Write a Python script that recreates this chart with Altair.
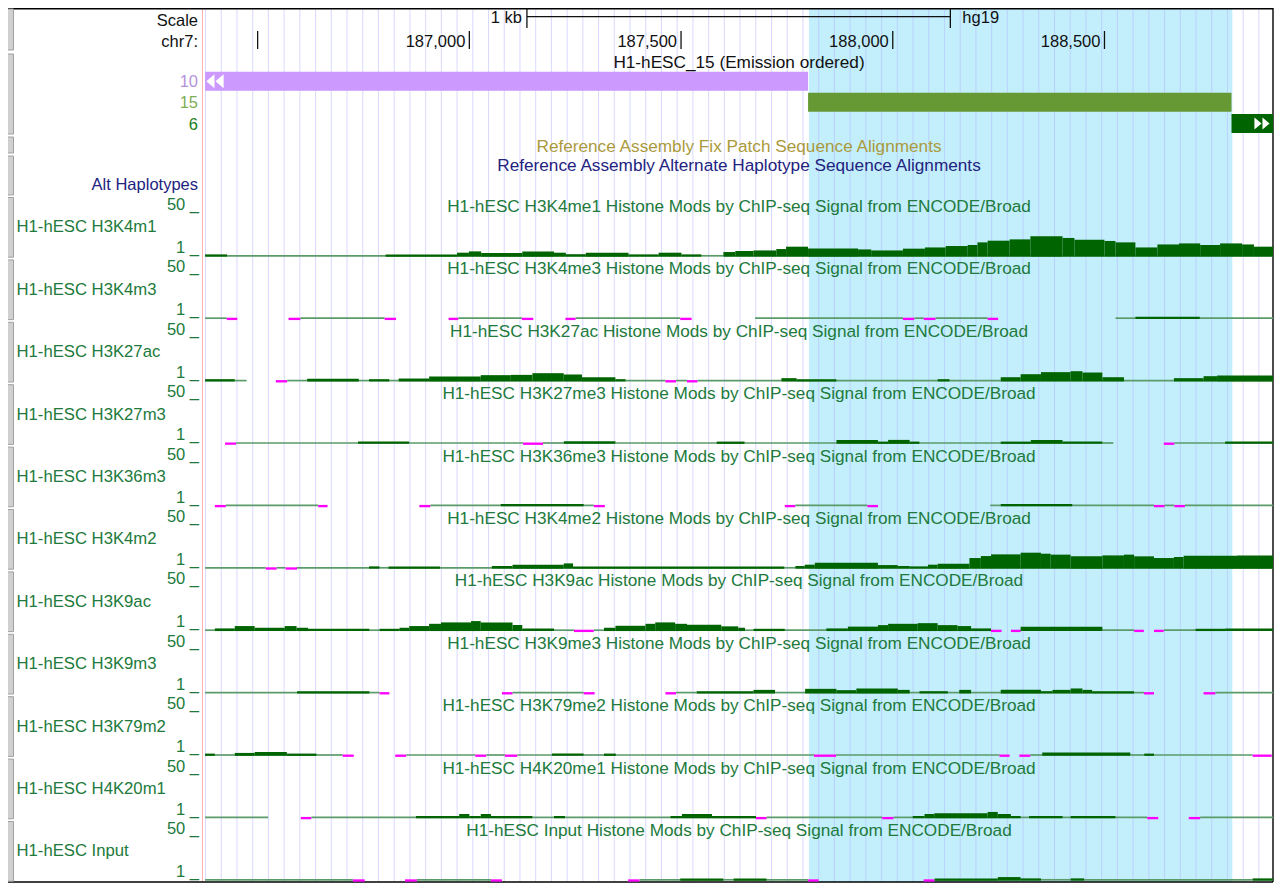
import altair as alt
import pandas as pd

# ---------------------------------------------------------------- data
VIEW_START, VIEW_END = 186371, 188898
HIGHLIGHT_START, HIGHLIGHT_END = 187802, 188802
SCALE_BAR_START, SCALE_BAR_END = 187136, 188136

RULER_TICKS = [186500, 187000, 187500, 188000, 188500]
RULER_LABELS = ["", "187,000", "187,500", "188,000", "188,500"]

HMM_STATES = ["10", "15", "6"]
HMM_START = [186376, 187800, 188800]
HMM_END = [187800, 188800, 188898]

TRACK_LABELS = [
    "H1-hESC H3K4m1", "H1-hESC H3K4m3", "H1-hESC H3K27ac", "H1-hESC H3K27m3",
    "H1-hESC H3K36m3", "H1-hESC H3K4m2", "H1-hESC H3K9ac", "H1-hESC H3K9m3",
    "H1-hESC H3K79m2", "H1-hESC H4K20m1", "H1-hESC Input",
]
TRACK_MARKS = [
    "H3K4me1", "H3K4me3", "H3K27ac", "H3K27me3", "H3K36me3", "H3K4me2",
    "H3K9ac", "H3K9me3", "H3K79me2", "H4K20me1", "Input",
]

# (start, end, signal); signal < 1 is drawn clipped (magenta)
H3K4ME1 = [
    (186376, 186428, 2.4), (186428, 186802, 1), (186802, 186971, 2.4), (186971, 186999, 4.2),
    (186999, 187028, 5.6), (187028, 187125, 3.9), (187125, 187200, 5.6), (187200, 187228, 4.2),
    (187228, 187275, 2.6), (187275, 187376, 4.2), (187376, 187447, 2.4), (187447, 187501, 4.2),
    (187501, 187548, 2.4), (187548, 187600, 1), (187600, 187628, 4.9), (187628, 187671, 6),
    (187671, 187725, 6.6), (187725, 187748, 8.1), (187748, 187800, 10.6), (187800, 187918, 8.8),
    (187918, 187949, 7.7), (187949, 188024, 6.6), (188024, 188076, 8.5), (188076, 188125, 9.8),
    (188125, 188177, 11.3), (188177, 188200, 12.4), (188200, 188224, 15.2), (188224, 188276, 17),
    (188276, 188325, 18.4), (188325, 188401, 21.6), (188401, 188429, 19.9), (188429, 188500, 18),
    (188500, 188526, 16.7), (188526, 188573, 15.2), (188573, 188625, 9.8), (188625, 188676, 13),
    (188676, 188726, 14.1), (188726, 188773, 12.4), (188773, 188825, 14.1), (188825, 188853, 13),
    (188853, 188898, 10.6),
]
H3K4ME3 = [
    (186376, 186427, 1), (186427, 186452, 0), (186573, 186601, 0), (186601, 186800, 1),
    (186800, 186827, 0), (186951, 186974, 0), (186974, 187124, 1), (187124, 187151, 0),
    (187227, 187251, 0), (187251, 187498, 1), (187498, 187525, 0), (187675, 188024, 1),
    (188024, 188051, 0), (188051, 188073, 1), (188073, 188101, 0), (188101, 188224, 1),
    (188224, 188249, 0), (188526, 188573, 1), (188573, 188725, 2.4), (188725, 188898, 1),
]
H3K27AC = [
    (186376, 186446, 2.4), (186446, 186474, 1), (186543, 186570, 0), (186570, 186617, 1),
    (186617, 186739, 2.8), (186739, 186763, 1), (186763, 186811, 2.4), (186811, 186833, 1),
    (186833, 186905, 3.1), (186905, 187027, 5.3), (187027, 187098, 6.7), (187098, 187149, 7),
    (187149, 187223, 8.8), (187223, 187266, 7.4), (187266, 187345, 4.5), (187345, 187369, 2.4),
    (187369, 187463, 1), (187463, 187488, 0), (187488, 187514, 1), (187514, 187539, 0),
    (187539, 187737, 1), (187737, 187773, 3.5), (187773, 187867, 2.4), (187867, 188106, 1),
    (188106, 188134, 2.4), (188134, 188255, 1), (188255, 188302, 4.5), (188302, 188350, 7.7),
    (188350, 188420, 9.9), (188420, 188448, 10.9), (188448, 188495, 9.5), (188495, 188546, 4.5),
    (188546, 188664, 1), (188664, 188734, 3.5), (188734, 188766, 5.6), (188766, 188898, 6.3),
]
H3K27ME3 = [
    (186423, 186449, 0), (186449, 186737, 1), (186737, 186858, 2.4), (186858, 187127, 1),
    (187127, 187174, 0), (187174, 187223, 1), (187223, 187345, 2.8), (187345, 187584, 1),
    (187584, 187650, 2.4), (187650, 187867, 1), (187867, 187965, 4.2), (187965, 187989, 2.4),
    (187989, 188040, 4.2), (188040, 188063, 2.4), (188063, 188255, 1), (188255, 188326, 2.4),
    (188326, 188401, 4.2), (188401, 188495, 2.4), (188495, 188521, 1), (188640, 188665, 0),
    (188665, 188785, 1), (188785, 188898, 2.4),
]
H3K36ME3 = [
    (186399, 186425, 0), (186425, 186643, 1), (186643, 186665, 0), (186882, 186908, 0),
    (186908, 187074, 1), (187074, 187270, 2.4), (187270, 187294, 1), (187294, 187320, 0),
    (187745, 187770, 0), (187770, 187940, 1), (187940, 187965, 0), (188230, 188255, 1),
    (188255, 188424, 2.4), (188424, 188617, 1), (188617, 188642, 0), (188642, 188665, 1),
    (188665, 188690, 0), (188690, 188898, 1),
]
H3K4ME2 = [
    (186376, 186519, 1), (186519, 186545, 0), (186545, 186566, 1), (186566, 186593, 0),
    (186593, 186763, 1), (186763, 186788, 2.4), (186788, 186809, 1), (186809, 186931, 2.4),
    (186931, 187053, 1), (187053, 187102, 2.8), (187102, 187223, 4.2), (187223, 187245, 5.6),
    (187245, 187744, 2.4), (187744, 187770, 1), (187770, 187792, 2.8), (187792, 187816, 4.2),
    (187816, 187965, 6.3), (187965, 188012, 3.8), (188012, 188040, 2.8), (188040, 188083, 2.4),
    (188083, 188106, 4.2), (188106, 188181, 5.3), (188181, 188208, 11.3), (188208, 188232, 13.4),
    (188232, 188302, 15.2), (188302, 188350, 17), (188350, 188373, 15.9), (188373, 188420, 14.9),
    (188420, 188495, 13.1), (188495, 188546, 14.1), (188546, 188570, 14.9), (188570, 188617, 13.1),
    (188617, 188664, 11.3), (188664, 188687, 12.4), (188687, 188813, 13.8), (188813, 188898, 14.1),
]
H3K9AC = [
    (186376, 186399, 1), (186399, 186446, 2.8), (186446, 186493, 5.3), (186493, 186564, 3.5),
    (186564, 186592, 5.3), (186592, 186619, 3.5), (186619, 186764, 2.4), (186764, 186788, 1),
    (186788, 186835, 2.4), (186835, 186858, 3.5), (186858, 186905, 5.3), (186905, 186933, 7.7),
    (186933, 187004, 9.2), (187004, 187027, 10.6), (187027, 187102, 9.2), (187102, 187125, 6.3),
    (187125, 187200, 2.8), (187200, 187247, 1), (187247, 187294, 0), (187294, 187318, 1),
    (187318, 187345, 3.5), (187345, 187416, 5.6), (187416, 187439, 7.7), (187439, 187486, 9.2),
    (187486, 187514, 7.7), (187514, 187595, 6.7), (187595, 187635, 5), (187635, 187651, 3.5),
    (187651, 187671, 1), (187671, 187745, 2.4), (187745, 187843, 1), (187843, 187894, 2.8),
    (187894, 187965, 4.7), (187965, 187989, 6.3), (187989, 188059, 7.7), (188059, 188106, 8.4),
    (188106, 188153, 6.3), (188153, 188185, 5.3), (188185, 188232, 2.8), (188232, 188257, 0),
    (188279, 188302, 0), (188302, 188495, 4.7), (188495, 188570, 1), (188570, 188593, 0),
    (188617, 188640, 0), (188640, 188715, 1), (188715, 188785, 2.4), (188785, 188898, 2.8),
]
H3K9ME3 = [
    (186376, 186593, 1), (186593, 186764, 2.4), (186764, 186788, 1), (186788, 186811, 0),
    (187077, 187102, 0), (187102, 187270, 1), (187270, 187296, 0), (187463, 187488, 0),
    (187488, 187537, 1), (187537, 187671, 2.4), (187671, 187722, 3.8), (187722, 187793, 1),
    (187793, 187867, 4.9), (187867, 187914, 3.5), (187914, 188012, 5.3), (188012, 188040, 3.8),
    (188040, 188063, 1), (188063, 188130, 2.4), (188130, 188157, 1), (188157, 188185, 3.8),
    (188185, 188255, 1), (188255, 188350, 3.8), (188350, 188377, 2.4), (188377, 188420, 3.8),
    (188420, 188448, 5.3), (188448, 188471, 3.8), (188471, 188570, 2.4), (188570, 188593, 1),
    (188593, 188617, 0), (188734, 188762, 0), (188762, 188898, 1),
]
H3K79ME2 = [
    (186376, 186399, 2.4), (186399, 186446, 1), (186446, 186493, 3.1), (186493, 186569, 4.2),
    (186569, 186639, 2.4), (186639, 186701, 1), (186701, 186727, 0), (186825, 186851, 0),
    (186851, 187014, 1), (187014, 187040, 0), (187040, 187084, 1), (187084, 187113, 0),
    (187113, 187195, 1), (187195, 187270, 2.4), (187270, 187318, 1), (187318, 187346, 2.4),
    (187346, 187814, 1), (187814, 187866, 0), (187866, 188252, 1), (188252, 188276, 0),
    (188299, 188325, 0), (188325, 188353, 1), (188353, 188561, 3.5), (188561, 188594, 1),
    (188594, 188617, 2.4), (188617, 188850, 1), (188850, 188895, 0),
]
H4K20ME1 = [
    (186376, 186525, 1), (186602, 186627, 0), (186627, 186874, 1), (186874, 186976, 2.4),
    (186976, 187000, 4.5), (187000, 187027, 2.4), (187027, 187051, 4.5), (187051, 187149, 2.4),
    (187149, 187200, 1), (187200, 187226, 2.4), (187226, 187475, 1), (187475, 187502, 2.4),
    (187502, 187573, 4.5), (187573, 187677, 2.4), (187677, 187702, 0), (187702, 187975, 1),
    (187975, 188002, 0), (188002, 188047, 1), (188047, 188075, 2.4), (188075, 188098, 4.5),
    (188098, 188224, 5.3), (188224, 188248, 6.7), (188248, 188279, 4.5), (188279, 188302, 2.4),
    (188302, 188322, 1), (188322, 188401, 2.4), (188401, 188420, 1), (188420, 188526, 2.4),
    (188526, 188601, 1), (188601, 188627, 0), (188699, 188726, 0), (188726, 188898, 1),
]
INPUT = [
    (186376, 186725, 1), (186725, 186753, 0), (186848, 186876, 0), (186876, 187051, 1),
    (187051, 187077, 0), (187375, 187402, 0), (187402, 187498, 1), (187498, 187600, 2.4),
    (187600, 187624, 1), (187624, 187702, 2.4), (187702, 187800, 1), (187800, 187825, 0),
    (188073, 188099, 0), (188099, 188248, 2.4), (188248, 188302, 3.8), (188302, 188350, 2.4),
    (188350, 188420, 1), (188420, 188452, 2.4), (188452, 188850, 1), (188850, 188898, 2.4),
]
TRACK_SIGNALS = [H3K4ME1, H3K4ME3, H3K27AC, H3K27ME3, H3K36ME3, H3K4ME2,
                 H3K9AC, H3K9ME3, H3K79ME2, H4K20ME1, INPUT]

# ---------------------------------------------------------------- style / layout
W, H = 1266, 875
X0, X1 = 195, 1265
LABEL_RIGHT = 190
DATA_CENTER = 731
TRACK0_BASE = 247.7
PITCH = 62.4
BOTTOM = 874
FONT = "Liberation Sans"
FS = 16.5
FS_LEFT = 16.7
FS_TITLE = 17.2

BLACK = "#111111"
TRACK_TEXT = "#217a3b"
BASE_GREEN = "#5a9b69"
SIGNAL_GREEN = "#006400"
CLIPPED = "#ff00ff"
HMM_COLORS = ["#cc99ff", "#669933", "#006400"]
HMM_TEXT = ["#b592dd", "#7fae55", "#1a7f1a"]
HIGHLIGHT = "#c3effc"
GUIDE = "#b4b4ff"
PATCH_TEXT = "#ab9a3c"
HAPLO_TEXT = "#22227f"

x_scale = alt.Scale(domain=[VIEW_START, VIEW_END], range=[X0, X1], nice=False, zero=False)
guides = [186377 + 37.13 * k for k in range(68)]


def text_layer(df, align, size=FS):
    return alt.Chart(df).mark_text(align=align, baseline="alphabetic", font=FONT, fontSize=size).encode(
        x=alt.X("px:Q", scale=None),
        y=alt.Y("py:Q", scale=None),
        text="text:N",
        color=alt.Color("color:N", scale=None),
    )


def track_frame(segments):
    rows = []
    for start, end, value in segments:
        if value < 1:
            rows.append(dict(start=start, end=end, lo=-1.1, hi=1.4, color=CLIPPED))
        else:
            rows.append(dict(start=start, end=end, lo=0.0, hi=1.8, color=BASE_GREEN))
    for start, end, value in segments:
        if value > 1:
            rows.append(dict(start=start, end=end, lo=0.0, hi=value, color=SIGNAL_GREEN))
    return pd.DataFrame(rows)


layers = []

# highlight and guidelines
layers.append(
    alt.Chart(pd.DataFrame({"start": [HIGHLIGHT_START], "end": [HIGHLIGHT_END]}))
    .mark_rect(color=HIGHLIGHT)
    .encode(x=alt.X("start:Q", scale=x_scale, axis=None), x2="end:Q",
            y=alt.value(0), y2=alt.value(BOTTOM))
)
layers.append(
    alt.Chart(pd.DataFrame({"pos": guides}))
    .mark_rule(color=GUIDE, opacity=0.5, strokeWidth=1)
    .encode(x=alt.X("pos:Q", scale=x_scale, axis=None), y=alt.value(0), y2=alt.value(BOTTOM))
)

# frame, separator and side buttons
layers.append(
    alt.Chart(pd.DataFrame({"a": [0]})).mark_rule(color="#ffb0b0", strokeWidth=1)
    .encode(x=alt.value(194.5), y=alt.value(0), y2=alt.value(BOTTOM))
)
frame = pd.DataFrame({
    "x": [0, X1, 0], "x2": [X1, X1, X1], "y": [0.7, 0, BOTTOM], "y2": [0.7, BOTTOM, BOTTOM],
})
layers.append(
    alt.Chart(frame).mark_rule(color="#000000", strokeWidth=1.4)
    .encode(x=alt.X("x:Q", scale=None), x2="x2:Q", y=alt.Y("y:Q", scale=None), y2="y2:Q")
)
btn_top = [1, 46, 129, 148] + [TRACK0_BASE - 58.2 + PITCH * i for i in range(11)]
btn_bot = [42, 126, 145, 187] + [TRACK0_BASE + 1.5 + PITCH * i for i in range(11)]
layers.append(
    alt.Chart(pd.DataFrame({"t": btn_top, "b": btn_bot}))
    .mark_rect(fill="#d0d0d0", stroke="#a0a0a0", strokeWidth=1)
    .encode(x=alt.value(-2), x2=alt.value(5.5), y=alt.Y("t:Q", scale=None), y2="b:Q")
)

# ruler
layers.append(
    alt.Chart(pd.DataFrame({"s": [SCALE_BAR_START], "e": [SCALE_BAR_END]}))
    .mark_rule(color=BLACK, strokeWidth=1.2)
    .encode(x=alt.X("s:Q", scale=x_scale, axis=None), x2="e:Q", y=alt.value(8.7))
)
layers.append(
    alt.Chart(pd.DataFrame({"p": [SCALE_BAR_START, SCALE_BAR_END]}))
    .mark_rule(color=BLACK, strokeWidth=1.3)
    .encode(x=alt.X("p:Q", scale=x_scale, axis=None), y=alt.value(0), y2=alt.value(20))
)
layers.append(
    alt.Chart(pd.DataFrame({"p": [SCALE_BAR_START], "t": ["1 kb"]}))
    .mark_text(align="right", baseline="alphabetic", font=FONT, fontSize=FS, color=BLACK, dx=-5)
    .encode(x=alt.X("p:Q", scale=x_scale, axis=None), y=alt.value(15.3), text="t:N")
)
layers.append(
    alt.Chart(pd.DataFrame({"p": [SCALE_BAR_END], "t": ["hg19"]}))
    .mark_text(align="left", baseline="alphabetic", font=FONT, fontSize=FS, color=BLACK, dx=12)
    .encode(x=alt.X("p:Q", scale=x_scale, axis=None), y=alt.value(15.3), text="t:N")
)
ruler = pd.DataFrame({"p": RULER_TICKS, "t": RULER_LABELS})
layers.append(
    alt.Chart(ruler).mark_rule(color=BLACK, strokeWidth=1.3)
    .encode(x=alt.X("p:Q", scale=x_scale, axis=None), y=alt.value(23), y2=alt.value(41))
)
layers.append(
    alt.Chart(ruler).mark_text(align="right", baseline="alphabetic", font=FONT, fontSize=FS, color=BLACK, dx=-4)
    .encode(x=alt.X("p:Q", scale=x_scale, axis=None), y=alt.value(38.5), text="t:N")
)

# chromHMM segments
hmm = pd.DataFrame({
    "start": HMM_START, "end": HMM_END, "color": HMM_COLORS,
    "top": [63.7 + 21.1 * i for i in range(3)], "bot": [82.7 + 21.1 * i for i in range(3)],
})
layers.append(
    alt.Chart(hmm).mark_rect()
    .encode(x=alt.X("start:Q", scale=x_scale, axis=None), x2="end:Q",
            y=alt.Y("top:Q", scale=None), y2="bot:Q", color=alt.Color("color:N", scale=None))
)
chevron = "M -1 0 L -0.06 -0.8 L -0.06 0.8 Z M 0.06 0 L 1 -0.8 L 1 0.8 Z"
layers.append(
    alt.Chart(pd.DataFrame({"a": [0]})).mark_point(shape=chevron, filled=True, color="white", opacity=1, size=300)
    .encode(x=alt.value(207), y=alt.value(73.2))
)
layers.append(
    alt.Chart(pd.DataFrame({"a": [0]})).mark_point(shape="M 1 0 L 0.06 -0.8 L 0.06 0.8 Z M -0.06 0 L -1 -0.8 L -1 0.8 Z",
                                                   filled=True, color="white", opacity=1, size=230)
    .encode(x=alt.value(1254), y=alt.value(115.5))
)

# signal tracks
for i, segments in enumerate(TRACK_SIGNALS):
    base = TRACK0_BASE + PITCH * i
    y_scale = alt.Scale(domain=[-2, 50], range=[base + 2.816, base - 46.0], nice=False, zero=False)
    layers.append(
        alt.Chart(track_frame(segments)).mark_rect()
        .encode(
            x=alt.X("start:Q", scale=x_scale, axis=None), x2="end:Q",
            y=alt.Y("hi:Q", scale=y_scale, axis=None), y2="lo:Q",
            color=alt.Color("color:N", scale=None),
        )
    )

# texts
right_texts = pd.DataFrame({
    "text": ["Scale", "chr7:"] + HMM_STATES + ["Alt Haplotypes"],
    "px": [LABEL_RIGHT] * 6,
    "py": [18, 39, 79, 100.3, 121.5, 182],
    "color": [BLACK, BLACK] + HMM_TEXT + [HAPLO_TEXT],
})
scale_texts = pd.DataFrame({
    "text": [t for _ in TRACK_LABELS for t in ("50 _", "1 _")],
    "px": [LABEL_RIGHT + 1] * (2 * len(TRACK_LABELS)),
    "py": [TRACK0_BASE + PITCH * i + d for i in range(len(TRACK_LABELS)) for d in (-45.7, -2.7)],
    "color": [TRACK_TEXT] * (2 * len(TRACK_LABELS)),
})
left_texts = pd.DataFrame({
    "text": TRACK_LABELS,
    "px": [8.5] * len(TRACK_LABELS),
    "py": [TRACK0_BASE + PITCH * i - 23.4 for i in range(len(TRACK_LABELS))],
    "color": [TRACK_TEXT] * len(TRACK_LABELS),
})
center_texts = pd.DataFrame({
    "text": ["H1-hESC_15 (Emission ordered)",
             "Reference Assembly Fix Patch Sequence Alignments",
             "Reference Assembly Alternate Haplotype Sequence Alignments"]
            + [f"H1-hESC {m} Histone Mods by ChIP-seq Signal from ENCODE/Broad" for m in TRACK_MARKS],
    "px": [DATA_CENTER] * (3 + len(TRACK_MARKS)),
    "py": [60, 143.7, 163] + [TRACK0_BASE + PITCH * i - 43.7 for i in range(len(TRACK_MARKS))],
    "color": [BLACK, PATCH_TEXT, HAPLO_TEXT] + [TRACK_TEXT] * len(TRACK_MARKS),
})
layers += [text_layer(right_texts, "right"), text_layer(scale_texts, "right"),
           text_layer(left_texts, "left", FS_LEFT), text_layer(center_texts, "center", FS_TITLE)]

chart = (
    alt.layer(*layers)
    .resolve_scale(y="independent")
    .properties(width=W, height=H, padding=0, autosize=alt.AutoSizeParams(type="none"), background="white")
    .configure_view(stroke=None)
)

chart.save("out.html", embed_options={"renderer": "svg", "actions": False})
